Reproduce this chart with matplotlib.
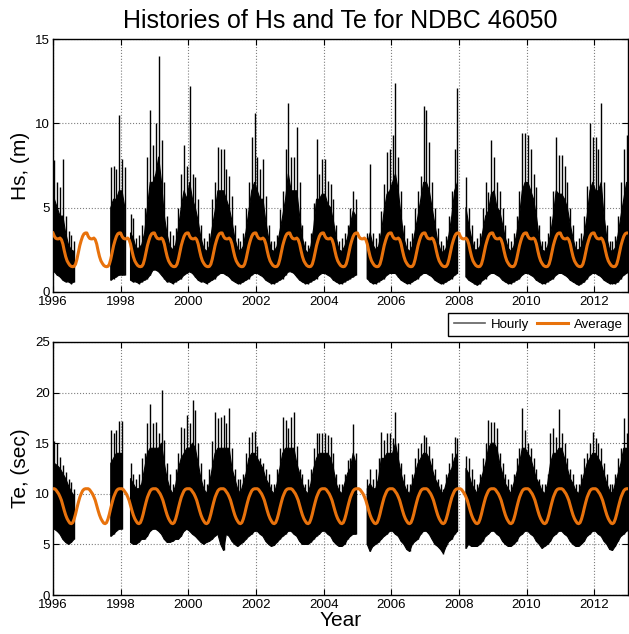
import numpy as np
import matplotlib
matplotlib.use('Agg')
import matplotlib.pyplot as plt
from matplotlib.lines import Line2D

nan = np.nan
years = list(range(1996, 2013))

# Monthly maxima of hourly Hs (m), one row per year
hs_max = [
    [7.8, 6.5, 6.2, 7.9, 4.5, 3.6, 3.4, 3.0, nan, nan, nan, nan],
    [nan, nan, nan, nan, nan, nan, nan, nan, 7.4, 7.5, 7.3, 10.5],
    [7.9, 7.4, nan, 4.6, 4.4, 3.2, 3.4, 4.0, 5.0, 8.0, 10.8, 8.7],
    [10.0, 14.0, 9.0, 6.5, 4.5, 3.6, 3.4, 3.8, 5.0, 7.0, 8.7, 7.5],
    [12.2, 7.0, 6.8, 5.5, 4.0, 3.2, 3.0, 3.5, 5.5, 6.5, 8.6, 8.5],
    [8.5, 7.3, 6.9, 5.7, 4.0, 3.2, 3.0, 3.5, 5.0, 6.5, 9.2, 10.6],
    [8.0, 7.3, 7.9, 5.7, 4.0, 3.0, 3.0, 3.4, 4.9, 6.0, 8.5, 11.2],
    [8.0, 8.0, 9.8, 6.5, 4.0, 3.0, 2.8, 3.5, 5.3, 9.1, 7.0, 7.9],
    [7.9, 6.6, 6.4, 5.5, 4.0, 3.0, 3.2, 3.5, 4.0, 5.0, 6.0, 5.5],
    [nan, nan, nan, 3.5, 7.6, 3.5, 3.2, 3.5, 4.8, 6.4, 8.3, 8.5],
    [9.3, 12.4, 8.0, 6.0, 4.0, 3.2, 3.0, 3.5, 5.0, 6.0, 6.9, 11.0],
    [10.8, 8.9, 6.5, 5.0, 3.8, 3.0, 2.8, 3.3, 4.5, 6.0, 8.5, 12.1],
    [nan, nan, 6.8, 5.0, 4.0, 3.0, 3.2, 3.5, 5.0, 6.5, 5.9, 9.0],
    [8.0, 6.5, 6.0, 5.0, 4.0, 3.2, 3.0, 3.5, 4.5, 6.0, 9.4, 9.4],
    [9.3, 8.5, 7.0, 6.2, 4.0, 3.0, 3.0, 3.5, 4.5, 6.0, 9.2, 8.1],
    [8.1, 7.5, 6.5, 5.0, 4.0, 3.0, 3.2, 3.5, 4.5, 6.3, 10.0, 9.2],
    [9.2, 8.5, 11.2, 6.5, 4.0, 3.0, 3.0, 3.3, 4.5, 6.5, 8.5, 9.3],
]
# Upper edge of the dense part of the hourly Hs trace
hs_bulk = [
    [5.5, 5.0, 4.5, 4.5, 3.5, 2.8, 2.5, 2.4, nan, nan, nan, nan],
    [nan, nan, nan, nan, nan, nan, nan, nan, 5.0, 5.5, 5.5, 6.0],
    [6.0, 5.0, nan, 3.5, 3.2, 2.6, 2.6, 2.8, 3.5, 5.0, 6.5, 6.5],
    [7.0, 8.0, 6.5, 4.5, 3.4, 2.7, 2.5, 2.8, 3.8, 5.0, 6.0, 5.5],
    [6.5, 5.5, 5.0, 4.2, 3.2, 2.6, 2.4, 2.7, 3.8, 4.8, 6.0, 6.0],
    [6.0, 5.5, 5.0, 4.2, 3.2, 2.6, 2.4, 2.7, 3.6, 4.8, 6.0, 6.5],
    [6.0, 5.5, 5.5, 4.2, 3.2, 2.5, 2.4, 2.7, 3.6, 4.5, 5.5, 7.0],
    [6.0, 6.0, 6.0, 4.5, 3.2, 2.5, 2.3, 2.7, 3.8, 5.5, 5.5, 5.8],
    [5.8, 5.2, 5.0, 4.2, 3.2, 2.5, 2.4, 2.7, 3.2, 4.0, 4.8, 4.5],
    [nan, nan, nan, 2.8, 3.5, 2.8, 2.5, 2.7, 3.5, 4.8, 5.8, 6.0],
    [6.5, 7.0, 6.0, 4.5, 3.2, 2.6, 2.4, 2.7, 3.6, 4.5, 5.5, 6.5],
    [6.5, 6.0, 5.0, 4.0, 3.0, 2.5, 2.3, 2.6, 3.4, 4.5, 6.0, 6.5],
    [nan, nan, 5.0, 4.0, 3.2, 2.5, 2.5, 2.7, 3.6, 4.5, 4.8, 5.8],
    [6.0, 5.0, 4.8, 4.0, 3.2, 2.6, 2.4, 2.7, 3.4, 4.5, 6.0, 6.5],
    [6.5, 6.0, 5.5, 4.5, 3.2, 2.5, 2.4, 2.7, 3.4, 4.5, 6.0, 5.8],
    [5.8, 5.5, 5.0, 4.0, 3.2, 2.5, 2.5, 2.7, 3.4, 4.5, 6.0, 6.5],
    [6.0, 6.0, 6.5, 4.5, 3.2, 2.5, 2.4, 2.6, 3.4, 4.5, 5.5, 6.5],
]
# Monthly minima of hourly Hs (m)
hs_min = [
    [1.2, 1.0, 0.9, 0.7, 0.6, 0.6, 0.5, 0.6, nan, nan, nan, nan],
    [nan, nan, nan, nan, nan, nan, nan, nan, 0.7, 0.8, 0.9, 1.0],
    [1.0, 1.0, nan, 0.7, 0.6, 0.6, 0.5, 0.6, 0.7, 0.8, 1.0, 1.3],
    [1.3, 1.2, 1.0, 0.8, 0.6, 0.6, 0.5, 0.6, 0.7, 0.8, 1.0, 1.1],
    [1.2, 1.1, 0.9, 0.7, 0.6, 0.6, 0.5, 0.6, 0.7, 0.8, 1.0, 1.1],
    [1.1, 1.0, 0.9, 0.7, 0.6, 0.5, 0.5, 0.6, 0.7, 0.8, 1.0, 1.1],
    [1.1, 1.0, 0.9, 0.7, 0.6, 0.5, 0.5, 0.6, 0.7, 0.8, 1.0, 1.2],
    [1.2, 1.1, 0.9, 0.7, 0.6, 0.5, 0.5, 0.6, 0.7, 0.8, 1.0, 1.1],
    [1.1, 1.0, 0.9, 0.7, 0.6, 0.5, 0.5, 0.6, 0.7, 0.8, 0.9, 1.0],
    [nan, nan, nan, 0.8, 0.6, 0.5, 0.5, 0.6, 0.7, 0.8, 1.0, 1.1],
    [1.1, 1.1, 0.9, 0.7, 0.6, 0.5, 0.5, 0.6, 0.7, 0.8, 1.0, 1.1],
    [1.1, 1.0, 0.9, 0.7, 0.6, 0.5, 0.5, 0.6, 0.7, 0.8, 1.0, 1.1],
    [nan, nan, 0.9, 0.7, 0.6, 0.5, 0.4, 0.5, 0.7, 0.8, 1.0, 1.1],
    [1.1, 1.0, 0.9, 0.7, 0.6, 0.5, 0.5, 0.6, 0.7, 0.8, 1.0, 1.1],
    [1.1, 1.0, 0.9, 0.7, 0.6, 0.5, 0.5, 0.6, 0.7, 0.8, 1.0, 1.1],
    [1.1, 1.0, 0.9, 0.7, 0.6, 0.5, 0.4, 0.5, 0.6, 0.8, 1.0, 1.1],
    [1.1, 1.0, 0.9, 0.7, 0.6, 0.5, 0.5, 0.5, 0.6, 0.8, 1.0, 1.1],
]
# Monthly maxima of hourly Te (s)
te_max = [
    [15.2, 15.0, 13.6, 12.8, 12.2, 11.5, 11.2, 10.5, nan, nan, nan, nan],
    [nan, nan, nan, nan, nan, nan, nan, nan, 16.3, 16.0, 16.3, 17.2],
    [17.2, nan, nan, 13.0, 12.0, 11.5, 12.0, 13.5, 14.0, 17.0, 18.9, 17.0],
    [17.1, 16.0, 20.3, 15.3, 13.0, 12.0, 11.0, 12.5, 14.0, 16.6, 16.5, 17.8],
    [17.0, 19.3, 18.3, 15.0, 13.0, 11.5, 11.0, 12.5, 15.2, 18.1, 17.5, 17.6],
    [17.8, 17.0, 18.5, 14.5, 12.5, 11.5, 11.5, 12.0, 14.0, 15.6, 16.1, 16.2],
    [14.7, 13.5, 13.0, 12.5, 12.0, 11.0, 11.0, 12.5, 14.5, 17.6, 17.3, 16.5],
    [17.6, 18.1, 14.7, 12.5, 12.0, 11.0, 11.5, 12.5, 14.5, 16.0, 16.0, 16.0],
    [16.0, 15.8, 15.6, 14.0, 12.0, 11.0, 11.0, 12.0, 13.3, 13.5, 16.9, 14.0],
    [nan, nan, nan, 11.5, 12.5, 11.5, 12.5, 13.5, 16.1, 15.3, 16.0, 16.0],
    [15.5, 18.1, 15.0, 13.0, 12.0, 11.0, 11.0, 12.0, 13.5, 14.5, 15.0, 15.8],
    [15.6, 14.7, 13.5, 12.5, 11.5, 11.0, 10.5, 12.0, 13.0, 14.0, 15.6, 15.5],
    [nan, nan, 13.7, 13.5, 12.5, 11.5, 11.0, 12.0, 13.5, 15.0, 17.3, 17.1],
    [17.1, 16.5, 14.0, 13.0, 12.0, 11.5, 11.0, 12.0, 13.5, 14.5, 18.5, 16.3],
    [15.0, 14.5, 13.5, 12.5, 11.5, 11.0, 11.0, 12.0, 16.0, 16.5, 15.6, 18.4],
    [16.0, 15.0, 13.5, 12.5, 12.0, 11.0, 11.0, 12.0, 13.5, 14.0, 15.0, 16.1],
    [15.5, 15.0, 14.5, 13.0, 12.0, 11.0, 11.0, 12.0, 13.5, 14.5, 17.5, 16.0],
]
# Upper edge of the dense part of the hourly Te trace
te_bulk = [
    [13.0, 12.8, 12.5, 12.0, 11.5, 10.8, 10.2, 9.8, nan, nan, nan, nan],
    [nan, nan, nan, nan, nan, nan, nan, nan, 13.0, 13.5, 14.0, 14.0],
    [14.0, nan, nan, 11.5, 11.0, 10.5, 10.5, 11.0, 12.5, 14.0, 14.5, 14.5],
    [14.5, 14.5, 15.0, 13.0, 11.5, 10.5, 10.0, 10.8, 12.5, 13.5, 14.0, 14.5],
    [14.5, 15.0, 14.5, 13.0, 11.5, 10.5, 10.0, 11.0, 12.5, 14.0, 14.5, 14.5],
    [14.5, 14.5, 14.5, 12.5, 11.5, 10.5, 10.0, 11.0, 12.0, 13.5, 14.0, 14.0],
    [13.5, 13.0, 12.5, 11.5, 11.0, 10.3, 10.0, 11.0, 12.5, 14.0, 14.5, 14.5],
    [14.5, 14.5, 13.0, 12.0, 11.0, 10.3, 10.0, 11.0, 12.5, 13.5, 14.0, 14.0],
    [14.0, 14.0, 13.5, 12.5, 11.0, 10.3, 10.0, 11.0, 12.0, 12.5, 14.0, 13.0],
    [nan, nan, nan, 10.5, 11.0, 10.5, 10.5, 11.5, 13.5, 13.5, 14.0, 14.0],
    [14.0, 15.0, 13.5, 12.0, 11.0, 10.3, 10.0, 11.0, 12.0, 13.0, 13.5, 14.0],
    [14.0, 13.5, 12.5, 11.5, 11.0, 10.3, 10.0, 11.0, 12.0, 12.5, 13.5, 14.0],
    [nan, nan, 12.5, 12.0, 11.0, 10.5, 10.0, 11.0, 12.0, 13.0, 14.5, 15.0],
    [15.0, 14.5, 13.0, 12.0, 11.0, 10.5, 10.0, 11.0, 12.0, 13.0, 14.5, 14.5],
    [14.0, 13.5, 12.5, 11.5, 11.0, 10.3, 10.0, 11.0, 13.0, 14.0, 14.0, 14.5],
    [14.5, 13.5, 12.5, 11.5, 11.0, 10.3, 10.0, 11.0, 12.0, 13.0, 13.5, 14.0],
    [14.0, 13.5, 13.0, 12.0, 11.0, 10.3, 10.0, 11.0, 12.0, 13.0, 14.5, 14.5],
]
# Monthly minima of hourly Te (s)
te_min = [
    [6.5, 6.3, 6.0, 5.5, 5.2, 5.0, 5.2, 5.5, nan, nan, nan, nan],
    [nan, nan, nan, nan, nan, nan, nan, nan, 5.8, 6.0, 6.3, 6.5],
    [6.5, nan, nan, 5.2, 5.0, 5.0, 5.2, 5.5, 5.5, 5.8, 6.3, 6.5],
    [6.5, 6.3, 6.0, 5.5, 5.2, 5.2, 5.3, 5.5, 5.5, 5.8, 6.3, 6.5],
    [6.3, 6.0, 5.8, 5.5, 5.2, 5.0, 5.2, 5.3, 5.5, 5.8, 6.0, 5.0],
    [4.4, 6.0, 5.8, 5.3, 5.0, 4.8, 5.0, 5.2, 5.5, 5.8, 6.0, 6.3],
    [6.3, 6.0, 5.8, 5.3, 5.0, 4.8, 4.9, 5.2, 5.5, 5.8, 6.0, 6.3],
    [6.3, 6.0, 5.8, 5.3, 5.0, 5.0, 5.0, 5.2, 5.5, 5.8, 6.0, 6.3],
    [6.3, 6.0, 5.8, 5.3, 5.0, 4.8, 4.8, 5.0, 5.5, 5.8, 6.0, 6.0],
    [nan, nan, nan, 5.0, 4.3, 4.8, 5.0, 5.2, 5.5, 5.8, 6.0, 6.3],
    [6.3, 6.0, 5.8, 5.3, 5.0, 4.5, 4.3, 5.0, 5.3, 5.5, 6.0, 6.3],
    [6.3, 6.0, 5.5, 5.0, 4.8, 4.5, 4.1, 4.8, 5.3, 5.5, 6.0, 6.3],
    [nan, nan, 4.6, 5.0, 4.8, 4.8, 4.8, 5.0, 5.3, 5.8, 6.0, 6.3],
    [6.3, 6.0, 5.8, 5.3, 5.0, 4.8, 4.8, 5.0, 5.3, 5.8, 6.0, 6.3],
    [6.3, 6.0, 5.8, 5.3, 5.0, 4.6, 4.8, 5.0, 5.3, 5.8, 6.0, 6.3],
    [6.3, 6.0, 5.8, 5.3, 5.0, 4.8, 4.8, 5.0, 5.3, 5.8, 6.0, 6.3],
    [6.3, 6.0, 5.8, 5.3, 5.0, 4.5, 4.4, 4.8, 5.3, 5.8, 6.0, 6.3],
]
# Seasonal average (climatology), sampled twice per month, repeated every year
hs_avg = [3.50, 3.30, 3.18, 3.15, 3.15, 3.20, 3.10, 2.85, 2.45, 2.10, 1.85, 1.70,
          1.58, 1.52, 1.50, 1.52, 1.65, 1.95, 2.35, 2.75, 3.05, 3.30, 3.45, 3.50]
te_avg = [10.50, 10.50, 10.40, 10.20, 10.00, 9.70, 9.35, 8.85, 8.35, 7.90, 7.55, 7.30,
          7.10, 7.05, 7.15, 7.50, 8.00, 8.60, 9.15, 9.65, 10.00, 10.30, 10.45, 10.50]

xticks = list(range(1996, 2013, 2))
hs_ticks = [0, 5, 10, 15]
te_ticks = [0, 5, 10, 15, 20, 25]

ORANGE = '#E8720C'
plt.rcParams['font.family'] = ['Liberation Sans', 'DejaVu Sans']

W, H = 629, 634
fig = plt.figure(figsize=(W / 100, H / 100), dpi=100)
ax1 = fig.add_axes([53 / W, 1 - 292 / H, 575 / W, 253 / H])
ax2 = fig.add_axes([53 / W, 1 - 595 / H, 575 / W, 253 / H])


def draw(ax, mx, bulk, mn, clim, yticks, ylabel):
    mx = np.array(mx, dtype=float).ravel()
    bulk = np.array(bulk, dtype=float).ravel()
    mn = np.array(mn, dtype=float).ravel()
    t = np.array([y + (m + 0.5) / 12 for y in years for m in range(12)])
    ax.fill_between(t, mn, bulk, color='k', lw=0.8, zorder=2)
    ax.vlines(t, mn, mx, color='k', lw=1.0, zorder=2)
    ta = np.array([y + k / 24 for y in years for k in range(24)] + [years[-1] + 1])
    va = np.array(list(clim) * len(years) + [clim[0]])
    ax.plot(ta, va, color=ORANGE, lw=2.2, zorder=3)
    ax.set_xlim(years[0], years[-1] + 1)
    ax.set_ylim(yticks[0], yticks[-1])
    ax.set_xticks(xticks)
    ax.set_xticklabels([str(x) for x in xticks])
    ax.set_yticks(yticks)
    ax.set_yticklabels([str(v) for v in yticks])
    ax.grid(True, linestyle=':', color='#7f7f7f', lw=0.8, zorder=1)
    ax.set_axisbelow(True)
    ax.tick_params(direction='in', top=True, right=True, length=4, width=0.8,
                   labelsize=9.5, pad=2)
    ax.tick_params(axis='x', pad=3)
    for s in ax.spines.values():
        s.set_linewidth(1.0)
    ax.set_ylabel(ylabel, fontsize=15)


draw(ax1, hs_max, hs_bulk, hs_min, hs_avg, hs_ticks, 'Hs, (m)')
draw(ax2, te_max, te_bulk, te_min, te_avg, te_ticks, 'Te, (sec)')
ax1.set_title('Histories of Hs and Te for NDBC 46050', fontsize=18, pad=8)
ax2.set_xlabel('Year', fontsize=15, labelpad=0)

handles = [Line2D([], [], color='#606060', lw=1.2), Line2D([], [], color=ORANGE, lw=2.2)]
fig.legend(handles, ['Hourly', 'Average'], loc='upper right',
           bbox_to_anchor=(628 / W, 1 - 313 / H), ncol=2, fontsize=9.5,
           frameon=True, fancybox=False, edgecolor='k', framealpha=1,
           borderpad=0.4, handlelength=2.4, columnspacing=0.6,
           handletextpad=0.4, borderaxespad=0)

fig.savefig('out.png', dpi=100)
